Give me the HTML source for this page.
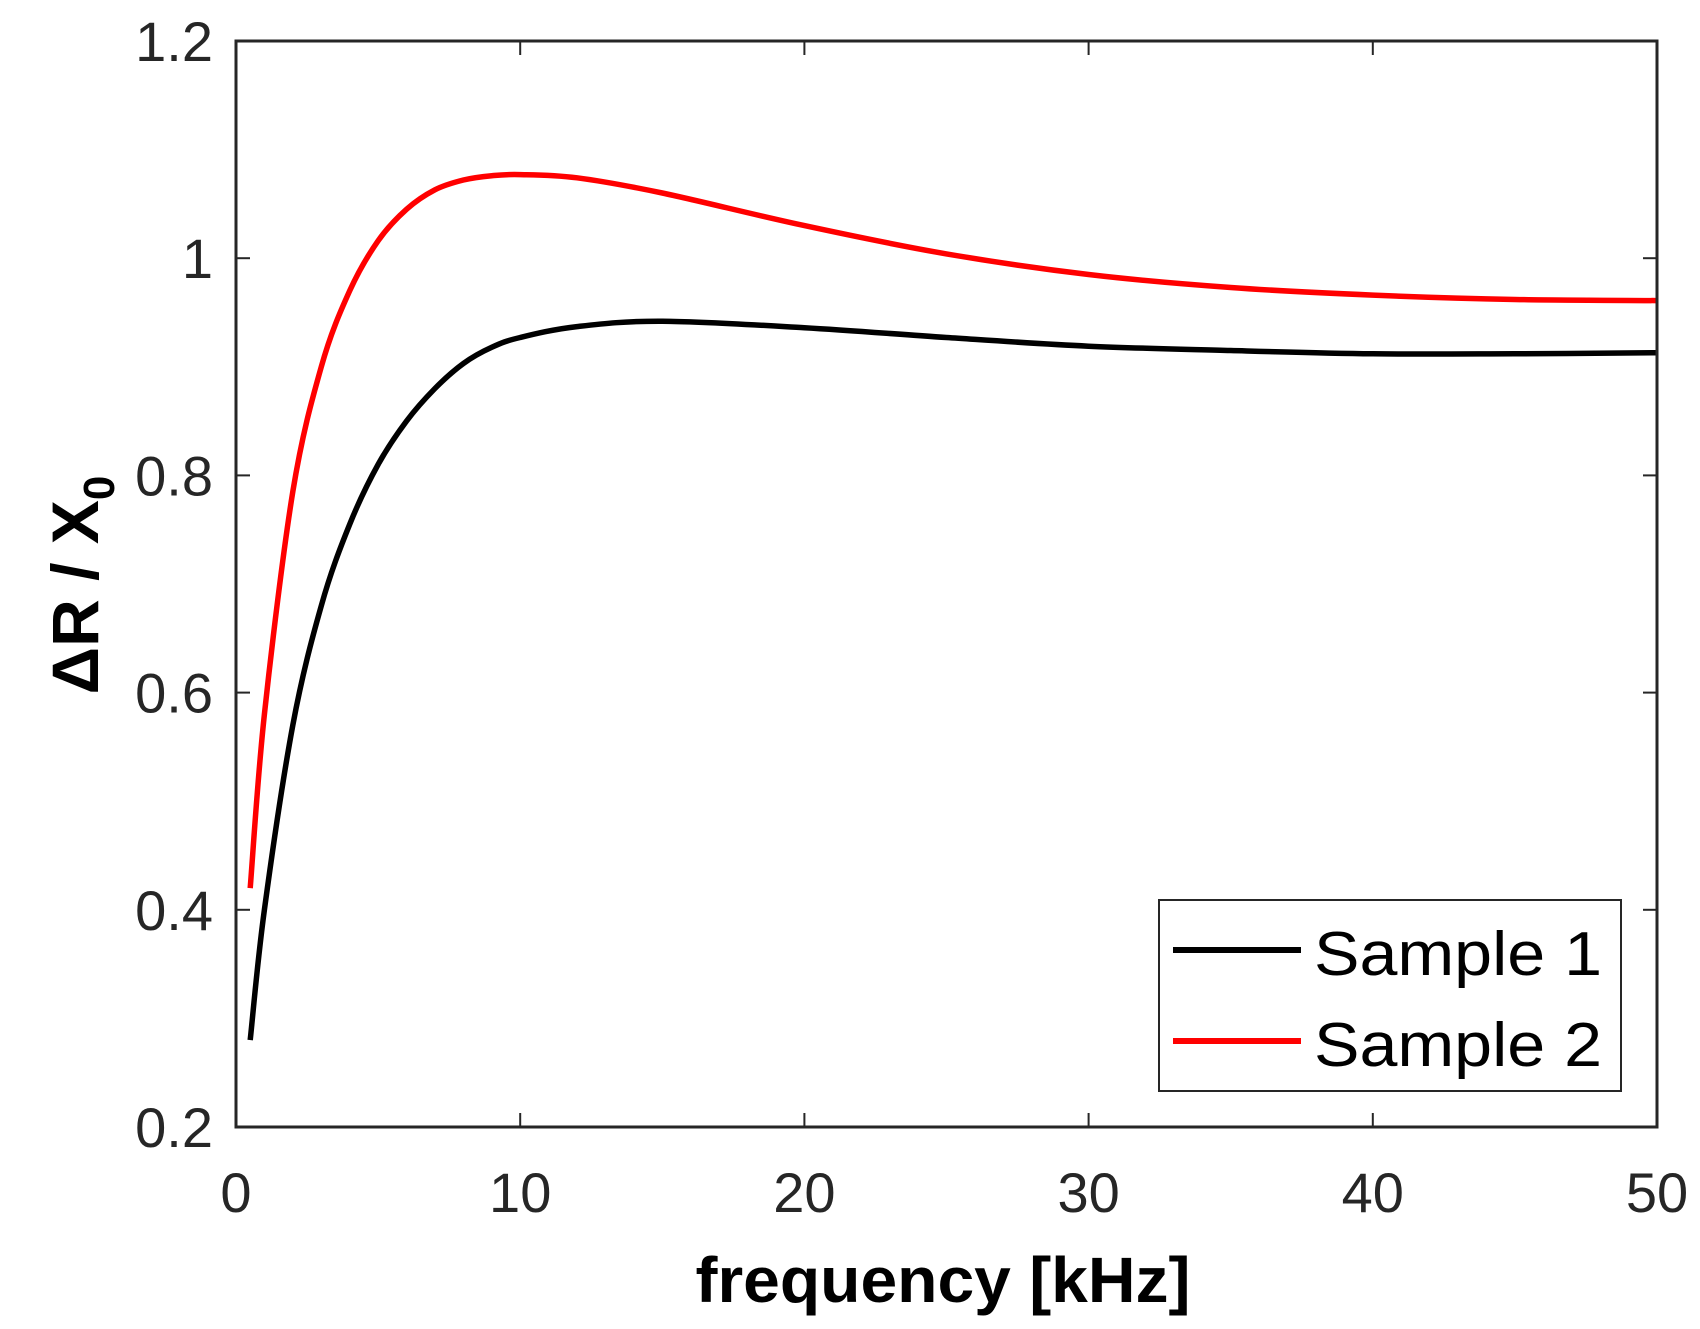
<!DOCTYPE html>
<html><head><meta charset="utf-8"><style>html,body{margin:0;padding:0;background:#fff}svg{display:block}</style></head>
<body>
<svg id="chart" width="1700" height="1329" viewBox="0 0 1700 1329" xmlns="http://www.w3.org/2000/svg" font-family="Liberation Sans, sans-serif">
<g id="grid"></g>
<g id="series"></g>
<rect x="236" y="41" width="1421" height="1086" fill="none" stroke="#262626" stroke-width="3"/>
<text x="943" y="1302" font-size="64" font-weight="bold" text-anchor="middle" textLength="495" lengthAdjust="spacingAndGlyphs">frequency [kHz]</text>
<text transform="translate(98,585) rotate(-90)" font-size="66" font-weight="bold" text-anchor="middle">ΔR / X<tspan font-size="44" dy="16">0</tspan></text>
<g>
<rect x="1159" y="900" width="462" height="191" fill="#fff" stroke="#262626" stroke-width="2"/>
<line x1="1173" y1="950" x2="1301" y2="950" stroke="#000" stroke-width="6"/>
<text x="1314" y="975" font-size="62" textLength="288" lengthAdjust="spacingAndGlyphs">Sample 1</text>
<line x1="1173" y1="1041" x2="1301" y2="1041" stroke="#f00" stroke-width="6"/>
<text x="1314" y="1066" font-size="62" textLength="288" lengthAdjust="spacingAndGlyphs">Sample 2</text>
</g>
</svg>
<script>
const freqs = [0.5,1,2,3,4,5,6,7,8,9,10,12,15,20,25,30,35,40,45,50];
const sample1 = [0.28,0.4,0.57,0.68,0.755,0.81,0.85,0.88,0.903,0.918,0.927,0.937,0.942,0.936,0.927,0.919,0.915,0.912,0.912,0.913];
const sample2 = [0.42,0.58,0.785,0.9,0.97,1.016,1.045,1.063,1.072,1.076,1.077,1.074,1.06,1.03,1.004,0.985,0.973,0.966,0.962,0.961];
const xTicks = [0,10,20,30,40,50];
const yTicks = [0.2,0.4,0.6,0.8,1,1.2];
const yTickLabels = ["0.2","0.4","0.6","0.8","1","1.2"];

const L=236,R=1657,T=41,B=1127;
const xs=v=>L+(v-0)/(50-0)*(R-L);
const ys=v=>B-(v-0.2)/(1.2-0.2)*(B-T);
const NS="http://www.w3.org/2000/svg";
const grid=document.getElementById('grid'), ser=document.getElementById('series');
function mk(tag,attrs,parent){const e=document.createElementNS(NS,tag);for(const k in attrs)e.setAttribute(k,attrs[k]);parent.appendChild(e);return e;}
xTicks.forEach(t=>{
  const x=xs(t);
  const g=mk('g',{},grid);
  
  
  mk('line',{x1:x,y1:B,x2:x,y2:B-14,stroke:'#262626','stroke-width':2},g);
  mk('line',{x1:x,y1:T,x2:x,y2:T+14,stroke:'#262626','stroke-width':2},g);
  const tx=mk('text',{x:x,y:1212,'font-size':56,'text-anchor':'middle',fill:'#262626'},g);
  tx.textContent=String(t);
});
yTicks.forEach((t,i)=>{
  const y=ys(t);
  const g=mk('g',{},grid);
  
  
  mk('line',{x1:L,y1:y,x2:L+14,y2:y,stroke:'#262626','stroke-width':2},g);
  mk('line',{x1:R,y1:y,x2:R-14,y2:y,stroke:'#262626','stroke-width':2},g);
  const tx=mk('text',{x:213,y:y+20,'font-size':56,'text-anchor':'end',fill:'#262626'},g);
  tx.textContent=yTickLabels[i];
});
function path(vals){
  const p=vals.map((v,i)=>[xs(freqs[i]),ys(v)]);
  let d='M'+p[0][0].toFixed(1)+','+p[0][1].toFixed(1);
  for(let i=0;i<p.length-1;i++){
    const p0=p[Math.max(0,i-1)],p1=p[i],p2=p[i+1],p3=p[Math.min(p.length-1,i+2)];
    const c1x=p1[0]+(p2[0]-p0[0])/6,c1y=p1[1]+(p2[1]-p0[1])/6;
    const c2x=p2[0]-(p3[0]-p1[0])/6,c2y=p2[1]-(p3[1]-p1[1])/6;
    d+=' C'+c1x.toFixed(1)+','+c1y.toFixed(1)+' '+c2x.toFixed(1)+','+c2y.toFixed(1)+' '+p2[0].toFixed(1)+','+p2[1].toFixed(1);
  }
  return d;
}
const p1=mk('path',{d:path(sample1),fill:'none',stroke:'#000','stroke-width':5.5,'stroke-linejoin':'round'},ser);


const p2=mk('path',{d:path(sample2),fill:'none',stroke:'#f00','stroke-width':5.5,'stroke-linejoin':'round'},ser);


</script>
</body></html>
